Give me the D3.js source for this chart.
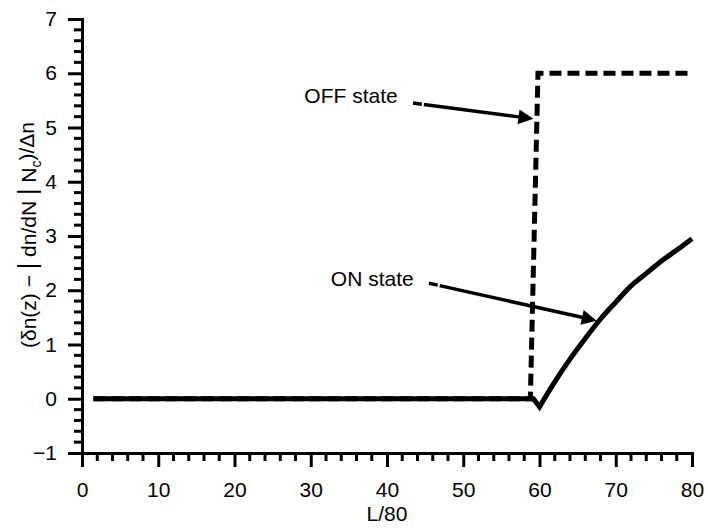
<!DOCTYPE html>
<html>
<head>
<meta charset="utf-8">
<script src="https://cdn.jsdelivr.net/npm/d3@7"></script>
<style>
  html, body { margin: 0; padding: 0; background: #fff; }
  svg { display: block; }
  text { font-family: "Liberation Sans", Arial, Helvetica, sans-serif; fill: #000; }
</style>
</head>
<body>
<svg id="chart" width="708" height="528"></svg>
<script>
// ---- data ----
const onFlatX = [1.5, 59.2, 60];
const onFlatY = [0, 0, -0.15];
const onRiseX = [60, 62, 64, 66, 68, 70, 72, 74, 76, 78, 80];
const onRiseY = [-0.15, 0.31, 0.73, 1.11, 1.47, 1.78, 2.08, 2.31, 2.54, 2.74, 2.95];
const offStateX = [1.5, 58.8, 59.8, 80];
const offStateY = [0, 0, 6, 6];
const xTicks = [0, 10, 20, 30, 40, 50, 60, 70, 80];
const yTicks = [-1, 0, 1, 2, 3, 4, 5, 6, 7];
const xMinorTicks = [2, 4, 6, 8, 12, 14, 16, 18, 22, 24, 26, 28, 32, 34, 36, 38, 42, 44, 46, 48, 52, 54, 56, 58, 62, 64, 66, 68, 72, 74, 76, 78];
const yMinorTicks = [-0.8, -0.6, -0.4, -0.2, 0.2, 0.4, 0.6, 0.8, 1.2, 1.4, 1.6, 1.8, 2.2, 2.4, 2.6, 2.8, 3.2, 3.4, 3.6, 3.8, 4.2, 4.4, 4.6, 4.8, 5.2, 5.4, 5.6, 5.8, 6.2, 6.4, 6.6, 6.8];
// annotations: [label, textEndX, textBaselineY, arrowStartX, arrowStartY, arrowTipX, arrowTipY]
const annotations = [
  ["OFF state", 41.4, 5.45, 43.4, 5.45, 59.2, 5.16],
  ["ON state", 43.5, 2.08, 45.5, 2.13, 67.5, 1.44]
];
const xLabel = "L/80";

// ---- layout ----
const svg = d3.select("#chart");
const x = d3.scaleLinear().domain([0, 80]).range([82, 692]);
const y = d3.scaleLinear().domain([-1, 7]).range([453, 19]);
const fontSize = 21;

// minor ticks
svg.append("g").selectAll("line").data(xMinorTicks).join("line")
  .attr("x1", d => x(d)).attr("x2", d => x(d))
  .attr("y1", y(-1)).attr("y2", y(-1) + 8)
  .attr("stroke", "#000").attr("stroke-width", 3);
svg.append("g").selectAll("line").data(yMinorTicks).join("line")
  .attr("x1", x(0)).attr("x2", x(0) - 8)
  .attr("y1", d => y(d)).attr("y2", d => y(d))
  .attr("stroke", "#000").attr("stroke-width", 3);

// major axes
const gx = svg.append("g").attr("transform", `translate(0,${y(-1)})`)
  .call(d3.axisBottom(x).tickValues(xTicks).tickSize(14).tickSizeOuter(0).tickPadding(15).tickFormat(d3.format("d")));
const gy = svg.append("g").attr("transform", `translate(${x(0)},0)`)
  .call(d3.axisLeft(y).tickValues(yTicks).tickSize(14).tickSizeOuter(0).tickPadding(11)
    .tickFormat(d => d < 0 ? "\u2212" + Math.abs(d) : d));
[gx, gy].forEach(g => {
  g.select(".domain").attr("stroke-width", 3).attr("stroke-linecap", "square");
  g.selectAll("line").attr("stroke-width", 3);
  g.selectAll("text").attr("font-size", fontSize).attr("font-family", "Liberation Sans, Arial, sans-serif").attr("fill", "#000");
});

// axis titles
svg.append("text")
  .attr("x", (x(0) + x(80)) / 2).attr("y", 521)
  .attr("text-anchor", "middle").attr("font-size", fontSize)
  .text(xLabel);

const yl = svg.append("text")
  .attr("transform", "translate(29,235) rotate(-90)")
  .attr("text-anchor", "middle").attr("dy", "0.35em").attr("font-size", fontSize);
yl.append("tspan").text("(\u03b4n(z) \u2212 ");
yl.append("tspan").attr("font-size", 25).text("|");
yl.append("tspan").text(" dn/dN ");
yl.append("tspan").attr("font-size", 25).text("|");
yl.append("tspan").text(" N");
yl.append("tspan").attr("font-size", 14).attr("dy", "0.3em").text("c");
yl.append("tspan").attr("dy", "-0.3em").text(")/\u0394n");

// series
const lineLin = d3.line().x(d => x(d[0])).y(d => y(d[1]));
const lineCurve = d3.line().x(d => x(d[0])).y(d => y(d[1])).curve(d3.curveMonotoneX);
const offData = offStateX.map((v, i) => [v, offStateY[i]]);
const onFlat = onFlatX.map((v, i) => [v, onFlatY[i]]);
const onRise = onRiseX.map((v, i) => [v, onRiseY[i]]);

svg.append("path").datum(offData)
  .attr("d", lineLin).attr("fill", "none").attr("stroke", "#000")
  .attr("stroke-width", 5).attr("stroke-dasharray", "12,6").attr("stroke-linejoin", "miter");

const riseD = lineCurve(onRise).replace(/^M[^A-Za-z]*/, "");
svg.append("path")
  .attr("d", lineLin(onFlat) + riseD).attr("fill", "none").attr("stroke", "#000")
  .attr("stroke-width", 5).attr("stroke-linejoin", "miter").attr("stroke-miterlimit", 10);

// annotations
annotations.forEach(([label, tx, ty, sx, sy, ex, ey]) => {
  svg.append("text").attr("x", x(tx)).attr("y", y(ty))
    .attr("text-anchor", "end").attr("font-size", fontSize).text(label);
  const x1 = x(sx), y1 = y(sy), x2 = x(ex), y2 = y(ey);
  const ang = Math.atan2(y2 - y1, x2 - x1);
  const headLen = 15, headW = 7.5;
  const bx = x2 - headLen * Math.cos(ang), by = y2 - headLen * Math.sin(ang);
  svg.append("line").attr("x1", x1).attr("y1", y1).attr("x2", bx + 2 * Math.cos(ang)).attr("y2", by + 2 * Math.sin(ang))
    .attr("stroke", "#000").attr("stroke-width", 3.5).attr("stroke-dasharray", "9,2,1000");
  const px = -Math.sin(ang), py = Math.cos(ang);
  svg.append("polygon")
    .attr("points", [[x2, y2], [bx + headW * px, by + headW * py], [bx - headW * px, by - headW * py]].map(p => p.join(",")).join(" "))
    .attr("fill", "#000");
});
</script>
</body>
</html>
